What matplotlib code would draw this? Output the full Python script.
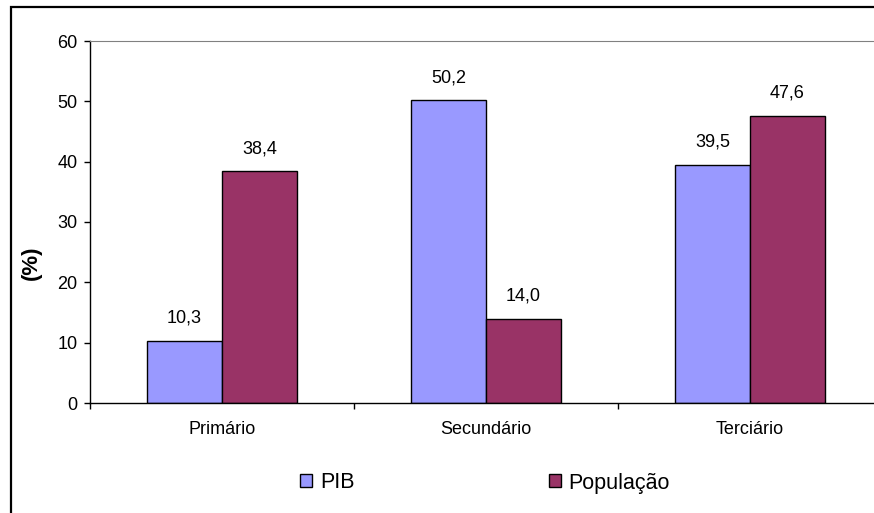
import matplotlib.pyplot as plt
import matplotlib.patches as mpatches
import numpy as np

# dados por setor
setores = ['Primário', 'Secundário', 'Terciário']
pib = [10.3, 50.2, 39.5]
populacao = [38.4, 14.0, 47.6]
series = ['PIB', 'População']

plt.rcParams['font.family'] = ['Liberation Sans', 'DejaVu Sans']

fig = plt.figure(figsize=(8.74, 5.13), dpi=100)
W, H = 874, 513

# área do gráfico em pixels: esquerda 90, base 403, topo 41
ax = fig.add_axes([90 / W, (H - 403) / H, 792 / W, 362 / H])

x = np.arange(len(setores))
w = 0.284
b1 = ax.bar(x - w / 2, pib, w, color='#9999FF', edgecolor='black', linewidth=1, label=series[0])
b2 = ax.bar(x + w / 2, populacao, w, color='#993366', edgecolor='black', linewidth=1, label=series[1])

# rótulos com vírgula decimal
for rects, vals in ((b1, pib), (b2, populacao)):
    for r, v in zip(rects, vals):
        ax.annotate(f'{v:.1f}'.replace('.', ','),
                    (r.get_x() + r.get_width() / 2, v),
                    xytext=(0, 10), textcoords='offset points',
                    ha='center', va='bottom', fontsize=13)

ax.set_xlim(-0.5, 2.5)
ax.set_ylim(0, 60)
ax.set_yticks(range(0, 61, 10))
ax.tick_params(axis='y', direction='out', length=4, width=1, pad=5, labelsize=13)

ax.set_xticks(x)
ax.set_xticklabels(setores)
ax.tick_params(axis='x', which='major', length=0, pad=13, labelsize=13)
ax.set_xticks([-0.5, 0.5, 1.5], minor=True)
ax.tick_params(axis='x', which='minor', direction='out', length=4, width=1)

ax.spines['top'].set_color('#808080')
ax.spines['right'].set_visible(False)
for s in ('left', 'bottom'):
    ax.spines[s].set_color('black')
    ax.spines[s].set_linewidth(1)

fig.text(31 / W, (H - 263) / H, '(%)', rotation=90, ha='center', va='center',
         fontsize=16, fontweight='bold')

fig.legend(handles=[b1, b2], loc='center', bbox_to_anchor=(0.555, (H - 483) / H),
           ncol=2, frameon=False, fontsize=15.5, handlelength=0.56, handleheight=0.56,
           handletextpad=0.37, columnspacing=9.0)

# moldura externa
frame = mpatches.Rectangle((11 / W, -0.05), 1.2, (H - 7) / H + 0.05,
                           transform=fig.transFigure, fill=False,
                           edgecolor='black', linewidth=1.6, clip_on=False)
fig.patches.append(frame)

fig.savefig('out.png', dpi=100)
